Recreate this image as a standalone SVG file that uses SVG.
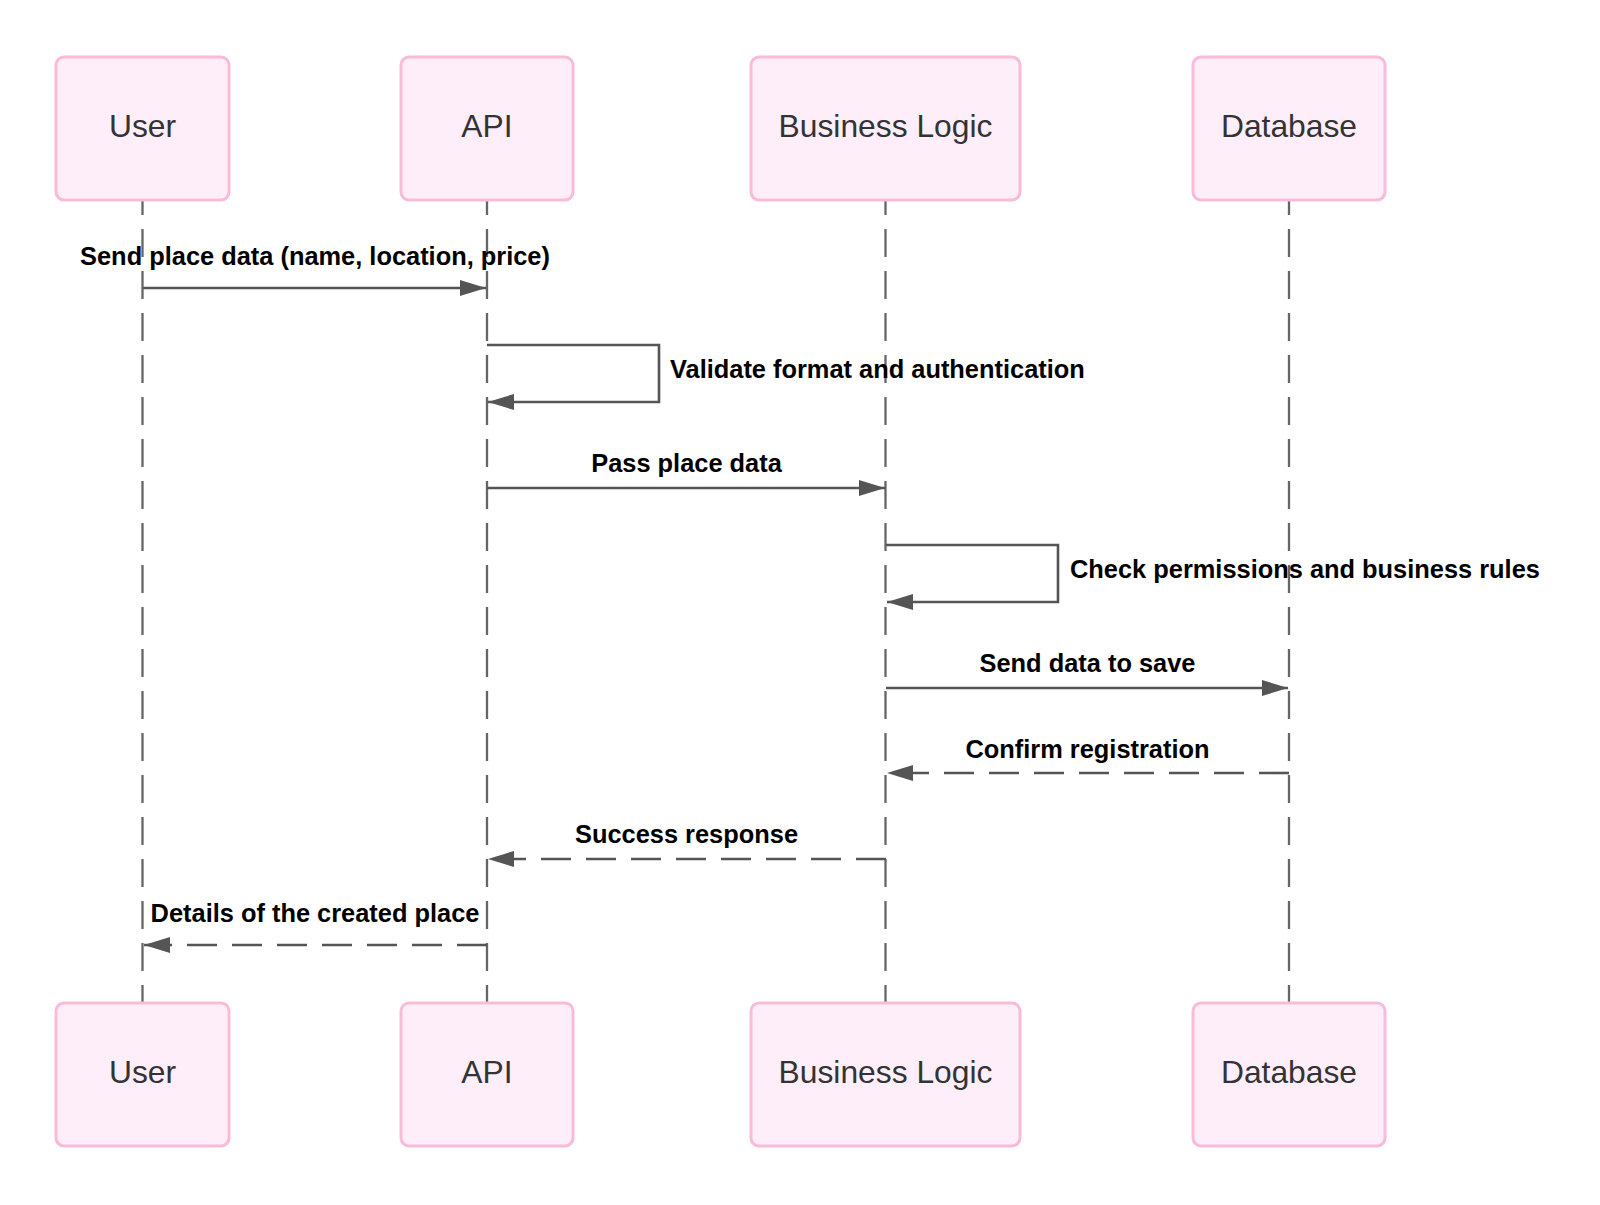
<svg xmlns="http://www.w3.org/2000/svg" width="1600" height="1205" viewBox="0 0 1600 1205">
<style>
.actor{fill:#feeef9;stroke:#f8bbd8;stroke-width:3}
.atext{font-family:"Liberation Sans",Arial,sans-serif;font-size:31.8px;fill:#333333;text-anchor:middle}
.life{stroke:#666666;stroke-width:2.3;stroke-dasharray:28 14;fill:none}
.msg{stroke:#555555;stroke-width:2.6;fill:none}
.dash{stroke-dasharray:30 15}
.mtext{font-family:"Liberation Sans",Arial,sans-serif;font-size:25.4px;font-weight:bold;fill:#000000;text-anchor:middle}
.ltext{text-anchor:start}
</style>
<defs>
<marker id="ah" viewBox="0 0 26 16" refX="26" refY="8" markerWidth="26" markerHeight="16" markerUnits="userSpaceOnUse" orient="auto">
<path d="M0,0 L26,8 L0,16 Z" fill="#555555"/>
</marker>
</defs>
<rect width="1600" height="1205" fill="#ffffff"/>
<g id="lifelines">
<line class="life" x1="142.5" y1="187" x2="142.5" y2="1003"/>
<line class="life" x1="487" y1="187" x2="487" y2="1003"/>
<line class="life" x1="885.5" y1="187" x2="885.5" y2="1003"/>
<line class="life" x1="1289" y1="187" x2="1289" y2="1003"/>
</g>
<g id="actor-user-top"><rect class="actor" x="56" y="57" width="173" height="143" rx="8"/><text class="atext" x="142.5" y="137">User</text></g>
<g id="actor-api-top"><rect class="actor" x="401" y="57" width="172" height="143" rx="8"/><text class="atext" x="487" y="137">API</text></g>
<g id="actor-bl-top"><rect class="actor" x="751" y="57" width="269" height="143" rx="8"/><text class="atext" x="885.5" y="137">Business Logic</text></g>
<g id="actor-db-top"><rect class="actor" x="1193" y="57" width="192" height="143" rx="8"/><text class="atext" x="1289" y="137">Database</text></g>
<g id="actor-user-bottom"><rect class="actor" x="56" y="1003" width="173" height="143" rx="8"/><text class="atext" x="142.5" y="1083">User</text></g>
<g id="actor-api-bottom"><rect class="actor" x="401" y="1003" width="172" height="143" rx="8"/><text class="atext" x="487" y="1083">API</text></g>
<g id="actor-bl-bottom"><rect class="actor" x="751" y="1003" width="269" height="143" rx="8"/><text class="atext" x="885.5" y="1083">Business Logic</text></g>
<g id="actor-db-bottom"><rect class="actor" x="1193" y="1003" width="192" height="143" rx="8"/><text class="atext" x="1289" y="1083">Database</text></g>
<g id="connectors">
<line class="msg" x1="143" y1="288" x2="486" y2="288" marker-end="url(#ah)"/>
<path class="msg" d="M487,345 H659 V402 H488" marker-end="url(#ah)"/>
<line class="msg" x1="487" y1="488" x2="885" y2="488" marker-end="url(#ah)"/>
<path class="msg" d="M886,545 H1058 V602 H887" marker-end="url(#ah)"/>
<line class="msg" x1="886" y1="688" x2="1288" y2="688" marker-end="url(#ah)"/>
<line class="msg dash" x1="1289" y1="773" x2="887" y2="773" marker-end="url(#ah)"/>
<line class="msg dash" x1="886" y1="859" x2="488" y2="859" marker-end="url(#ah)"/>
<line class="msg dash" x1="487" y1="945" x2="144" y2="945" marker-end="url(#ah)"/>
</g>
<g id="labels">
<text class="mtext" x="315" y="265">Send place data (name, location, price)</text>
<text class="mtext ltext" x="670" y="378">Validate format and authentication</text>
<text class="mtext" x="686.5" y="472">Pass place data</text>
<text class="mtext ltext" x="1070" y="578">Check permissions and business rules</text>
<text class="mtext" x="1087.5" y="672">Send data to save</text>
<text class="mtext" x="1087.5" y="758">Confirm registration</text>
<text class="mtext" x="686.5" y="843">Success response</text>
<text class="mtext" x="315" y="922">Details of the created place</text>
</g>
</svg>
